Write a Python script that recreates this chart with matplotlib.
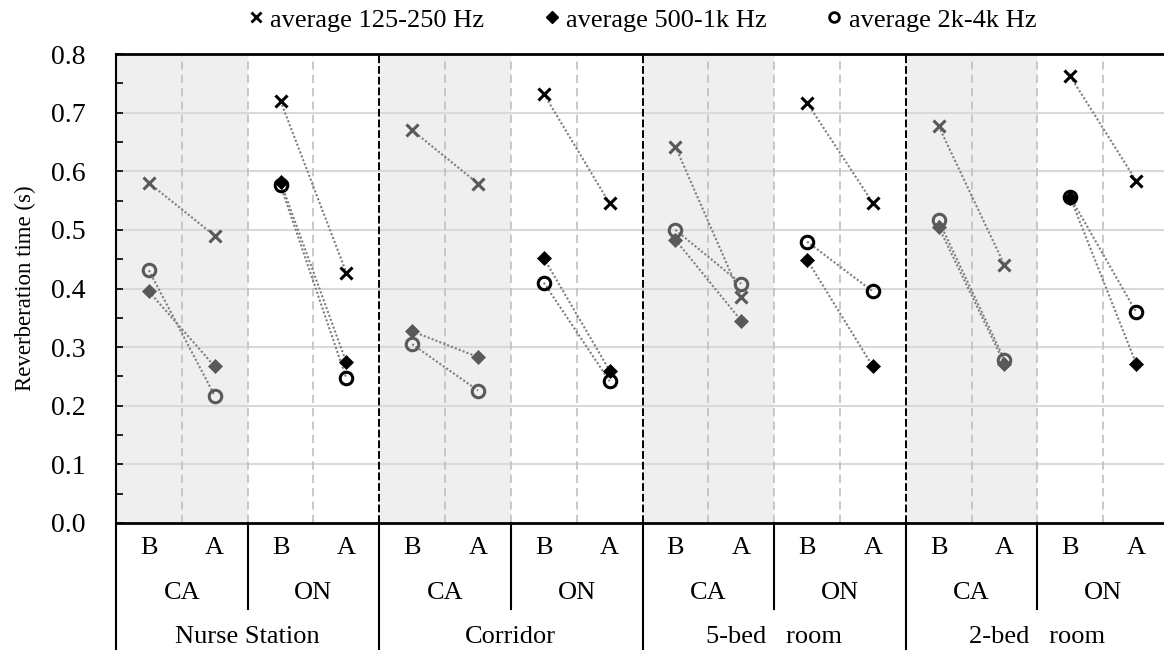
import matplotlib.pyplot as plt
from matplotlib.lines import Line2D
import matplotlib.transforms as mtransforms

plt.rcParams['font.family'] = ['Liberation Serif', 'DejaVu Serif']

# categories
rooms = ['Nurse Station', 'Corridor', '5-bed   room', '2-bed   room']
conditions = ['CA', 'ON']
phases = ['B', 'A']

# reverberation time (s), order: room -> condition -> B, A
avg_low = [0.580, 0.490, 0.720, 0.427, 0.670, 0.579, 0.732, 0.545,
           0.642, 0.386, 0.717, 0.546, 0.677, 0.440, 0.762, 0.584]
avg_mid = [0.395, 0.267, 0.582, 0.274, 0.327, 0.283, 0.452, 0.260,
           0.483, 0.345, 0.449, 0.267, 0.505, 0.272, 0.555, 0.272]
avg_high = [0.431, 0.217, 0.576, 0.247, 0.305, 0.226, 0.410, 0.242,
            0.500, 0.408, 0.480, 0.395, 0.516, 0.278, 0.556, 0.360]
yticks = [0.0, 0.1, 0.2, 0.3, 0.4, 0.5, 0.6, 0.7, 0.8]

W, H = 1164, 650
fig = plt.figure(figsize=(W / 100, H / 100), dpi=100)
ax = fig.add_axes([116 / W, (H - 523) / H, 1053 / W, 469 / H])

n = len(rooms) * len(conditions) * len(phases)
ax.set_xlim(-0.5, n - 0.5)
ax.set_ylim(0, 0.8)

# shading for CA groups
for r in range(len(rooms)):
    start = r * 4
    ax.axvspan(start - 0.5, start + 1.5, color='#efefef', zorder=0, lw=0)

# grid
for v in yticks[1:-1]:
    ax.axhline(v, color='#d9d9d9', lw=1.5, zorder=1)
for i in range(1, n):
    if i % 4 == 0:
        ax.axvline(i - 0.5, color='black', lw=1.4, ls=(0, (4, 1.5)), zorder=2)
    else:
        ax.axvline(i - 0.5, color='#c0c0c0', lw=1.2, ls=(0, (5, 3)), zorder=1)

series = [(avg_low, 'x', dict(mew=2.2, ms=9)),
          (avg_mid, 'D', dict(ms=7.5, mew=0.5)),
          (avg_high, 'o', dict(ms=9, mew=2.2, mfc='none'))]

for g in range(n // 2):
    col = '#595959' if g % 2 == 0 else 'black'
    xs = [2 * g, 2 * g + 1]
    for vals, mk, kw in series:
        ys = vals[2 * g:2 * g + 2]
        ax.plot(xs, ys, ls=(0, (1, 1)), color='#7f7f7f', lw=1.5, zorder=3)
        ax.plot(xs, ys, ls='none', marker=mk, color=col, mec=col, zorder=4, **kw)

# axes styling
ax.set_yticks(yticks)
ax.set_yticklabels([f'{v:.1f}' for v in yticks])
ax.set_yticks([v + 0.05 for v in yticks[:-1]], minor=True)
ax.tick_params(axis='y', which='both', direction='in', length=5, width=1.2,
               pad=22, labelsize=20)
ax.set_xticks([])
ax.spines['right'].set_visible(False)
ax.spines['left'].set_linewidth(1.5)
ax.spines['top'].set_linewidth(2)
ax.spines['bottom'].set_linewidth(2)
ax.set_ylabel('Reverberation time (s)', fontsize=16.5)
ax.yaxis.set_label_coords(-0.076, 0.5)

# multi-level category axis
trans = mtransforms.blended_transform_factory(ax.transData, ax.transAxes)
px = 1 / 469
for i in range(n):
    ax.text(i, -25 * px, phases[i % 2], transform=trans, ha='center',
            va='center', fontsize=19)
for g in range(n // 2):
    ax.text(2 * g + 0.5, -70 * px, conditions[g % 2], transform=trans,
            ha='center', va='center', fontsize=19)
for r, name in enumerate(rooms):
    ax.text(4 * r + 1.5, -114 * px, name, transform=trans, ha='center',
            va='center', fontsize=19)
for g in range(n // 2 + 1):
    x = 2 * g - 0.5
    bottom = -128 * px if g % 2 == 0 else -86 * px
    ax.plot([x, x], [0, bottom], transform=trans, color='black', lw=1.5,
            clip_on=False)

# legend
handles = [Line2D([], [], ls='none', marker='x', color='black', ms=7, mew=2),
           Line2D([], [], ls='none', marker='D', color='black', ms=6),
           Line2D([], [], ls='none', marker='o', color='black', mfc='none',
                  ms=7, mew=2)]
labels = ['average 125-250 Hz', 'average 500-1k Hz', 'average 2k-4k Hz']
fig.legend(handles, labels, loc='center', bbox_to_anchor=(643 / W, 1 - 20 / H),
           ncol=3, frameon=False, fontsize=19, handlelength=0.5,
           handletextpad=0.3, columnspacing=2.3)

fig.savefig('out.png', dpi=100)
